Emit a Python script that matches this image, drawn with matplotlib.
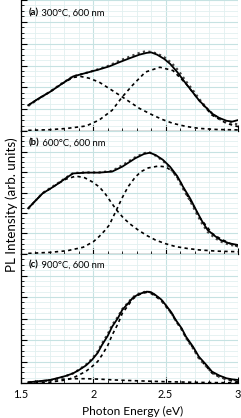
import matplotlib
matplotlib.use("Agg")
import matplotlib.pyplot as plt
from matplotlib.ticker import MultipleLocator, AutoMinorLocator

# ---- data (energy in eV, intensity in arb. units) ----
labels_bold = ["(a)", "(b)", "(c)"]
labels_text = [" 300°C, 600 nm", " 600°C, 600 nm", " 900°C, 600 nm"]

# panel (a)
a_fit_E = [1.55, 1.62, 1.70, 1.78, 1.86, 1.95, 2.04, 2.11, 2.18, 2.25, 2.32, 2.37, 2.40, 2.44, 2.49, 2.53, 2.58, 2.64, 2.69, 2.73, 2.78, 2.82, 2.87, 2.92, 2.96, 3.00]
a_fit_I = [1.18, 1.48, 1.79, 2.15, 2.50, 2.66, 2.82, 2.96, 3.15, 3.33, 3.50, 3.58, 3.60, 3.50, 3.30, 3.08, 2.70, 2.17, 1.75, 1.41, 1.07, 0.80, 0.60, 0.47, 0.43, 0.50]
a_dat_E = [1.55, 1.62, 1.70, 1.78, 1.86, 1.95, 2.04, 2.11, 2.18, 2.25, 2.32, 2.36, 2.40, 2.44, 2.49, 2.54, 2.59, 2.64, 2.69, 2.74, 2.79, 2.84, 2.89, 2.94, 3.00]
a_dat_I = [1.15, 1.46, 1.80, 2.17, 2.50, 2.66, 2.84, 3.00, 3.22, 3.40, 3.58, 3.65, 3.62, 3.55, 3.38, 3.12, 2.75, 2.28, 1.85, 1.40, 1.00, 0.70, 0.50, 0.38, 0.30]
a_g1_E = [1.55, 1.62, 1.70, 1.78, 1.86, 1.91, 1.97, 2.04, 2.13, 2.20, 2.27, 2.32, 2.41, 2.48, 2.55, 2.64, 2.73, 2.85, 3.00]
a_g1_I = [1.18, 1.48, 1.79, 2.15, 2.45, 2.50, 2.42, 2.24, 1.86, 1.56, 1.25, 1.03, 0.73, 0.52, 0.35, 0.21, 0.12, 0.07, 0.05]
a_g2_E = [1.55, 1.70, 1.82, 1.95, 2.04, 2.13, 2.20, 2.27, 2.36, 2.46, 2.55, 2.64, 2.73, 2.82, 2.92, 3.00]
a_g2_I = [0.03, 0.06, 0.12, 0.23, 0.50, 0.95, 1.56, 2.09, 2.70, 2.92, 2.77, 2.17, 1.41, 0.73, 0.35, 0.20]

# panel (b)
b_fit_E = [1.55, 1.60, 1.65, 1.71, 1.76, 1.81, 1.86, 1.95, 2.04, 2.13, 2.20, 2.29, 2.35, 2.39, 2.43, 2.48, 2.53, 2.58, 2.62, 2.67, 2.71, 2.75, 2.79, 2.84, 2.88, 2.94, 3.00]
b_fit_I = [2.23, 2.60, 2.96, 3.22, 3.45, 3.70, 3.93, 3.97, 3.97, 4.02, 4.26, 4.67, 4.88, 4.94, 4.83, 4.60, 4.26, 3.80, 3.28, 2.70, 2.15, 1.62, 1.17, 0.88, 0.68, 0.52, 0.44]
b_dat_E = [1.55, 1.60, 1.65, 1.71, 1.76, 1.81, 1.86, 1.95, 2.04, 2.13, 2.20, 2.29, 2.35, 2.39, 2.43, 2.48, 2.53, 2.58, 2.62, 2.67, 2.71, 2.75, 2.79, 2.84, 2.89, 2.94, 3.00]
b_dat_I = [2.20, 2.60, 2.98, 3.25, 3.48, 3.72, 3.95, 3.98, 3.98, 4.05, 4.33, 4.72, 4.92, 4.95, 4.80, 4.55, 4.20, 3.72, 3.18, 2.58, 2.02, 1.50, 1.08, 0.78, 0.58, 0.45, 0.38]
b_g1_E = [1.55, 1.60, 1.65, 1.71, 1.76, 1.81, 1.88, 1.94, 1.99, 2.04, 2.08, 2.12, 2.16, 2.21, 2.26, 2.31, 2.37, 2.43, 2.50, 2.57, 2.65, 2.73, 2.85, 3.00]
b_g1_I = [2.23, 2.60, 2.96, 3.22, 3.45, 3.65, 3.80, 3.72, 3.53, 3.28, 2.96, 2.55, 2.15, 1.74, 1.43, 1.17, 0.90, 0.68, 0.50, 0.36, 0.27, 0.20, 0.14, 0.11]
b_g2_E = [1.55, 1.70, 1.82, 1.93, 2.00, 2.04, 2.08, 2.11, 2.16, 2.20, 2.24, 2.29, 2.33, 2.38, 2.45, 2.50, 2.55, 2.60, 2.64, 2.69, 2.73, 2.78, 2.82, 2.87, 2.92, 2.96, 3.00]
b_g2_I = [0.03, 0.08, 0.16, 0.33, 0.60, 0.85, 1.15, 1.41, 2.15, 2.75, 3.28, 3.75, 4.02, 4.20, 4.29, 4.25, 4.02, 3.55, 2.96, 2.38, 1.82, 1.38, 1.01, 0.78, 0.60, 0.46, 0.36]

# panel (c)
c_fit_E = [1.55, 1.62, 1.70, 1.76, 1.81, 1.86, 1.90, 1.95, 1.99, 2.03, 2.06, 2.10, 2.13, 2.17, 2.20, 2.24, 2.27, 2.30, 2.33, 2.37, 2.40, 2.43, 2.47, 2.50, 2.54, 2.57, 2.61, 2.64, 2.69, 2.73, 2.78, 2.82, 2.87, 2.92, 2.96, 3.00]
c_fit_I = [0.03, 0.08, 0.14, 0.24, 0.33, 0.45, 0.60, 0.82, 1.07, 1.40, 1.77, 2.20, 2.62, 3.02, 3.40, 3.70, 3.94, 4.08, 4.17, 4.25, 4.22, 4.09, 3.88, 3.63, 3.28, 2.93, 2.55, 2.16, 1.68, 1.22, 0.85, 0.53, 0.35, 0.22, 0.17, 0.14]
c_dat_E = [1.55, 1.62, 1.70, 1.76, 1.81, 1.86, 1.90, 1.95, 1.99, 2.03, 2.06, 2.10, 2.13, 2.17, 2.20, 2.24, 2.27, 2.30, 2.33, 2.37, 2.40, 2.43, 2.47, 2.50, 2.54, 2.57, 2.61, 2.64, 2.69, 2.73, 2.78, 2.82, 2.87, 2.92, 2.96, 3.00]
c_dat_I = [0.02, 0.06, 0.12, 0.22, 0.32, 0.45, 0.62, 0.86, 1.12, 1.47, 1.84, 2.28, 2.70, 3.08, 3.44, 3.74, 3.97, 4.12, 4.20, 4.26, 4.21, 4.07, 3.86, 3.60, 3.25, 2.90, 2.50, 2.10, 1.60, 1.14, 0.78, 0.48, 0.31, 0.20, 0.15, 0.12]
c_g1_E = [1.55, 1.65, 1.75, 1.85, 1.95, 2.04, 2.15, 2.27, 2.40, 2.50, 2.65, 2.80, 3.00]
c_g1_I = [0.04, 0.10, 0.16, 0.20, 0.20, 0.18, 0.14, 0.11, 0.08, 0.06, 0.04, 0.02, 0.01]
c_g2_E = [1.55, 1.70, 1.81, 1.86, 1.90, 1.95, 1.99, 2.03, 2.06, 2.10, 2.13, 2.17, 2.20, 2.24, 2.27, 2.30, 2.33, 2.37, 2.40, 2.43, 2.47, 2.50, 2.54, 2.57, 2.61, 2.64, 2.69, 2.73, 2.78, 2.82, 2.87, 2.92, 2.96, 3.00]
c_g2_I = [0.00, 0.04, 0.14, 0.24, 0.37, 0.55, 0.76, 1.00, 1.30, 1.75, 2.23, 2.75, 3.24, 3.60, 3.89, 4.05, 4.15, 4.22, 4.16, 4.03, 3.82, 3.57, 3.23, 2.88, 2.50, 2.12, 1.63, 1.16, 0.78, 0.46, 0.28, 0.16, 0.09, 0.05]

panels = [
    (a_fit_E, a_fit_I, a_dat_E, a_dat_I, a_g1_E, a_g1_I, a_g2_E, a_g2_I),
    (b_fit_E, b_fit_I, b_dat_E, b_dat_I, b_g1_E, b_g1_I, b_g2_E, b_g2_I),
    (c_fit_E, c_fit_I, c_dat_E, c_dat_I, c_g1_E, c_g1_I, c_g2_E, c_g2_I),
]

xticks = [1.5, 2, 2.5, 3]
xticklabels = ["1.5", "2", "2.5", "3"]

plt.rcParams['font.family'] = ['Lato', 'DejaVu Sans']

fig = plt.figure(figsize=(2.41, 4.18), dpi=100)
W, H = 241.0, 418.0
left = 21 / W
width = (238 - 21) / W
bounds = [(0, 131), (131, 254), (254, 383)]
label_center = [13, 143, 265]

grid_major = "#c6e2e2"
grid_minor = "#e2f0f0"

label_fs = 6.8
tick_fs = 7.8
xlabel_fs = 8.6
ylabel_fs = 9.6

for i, (pt, pb) in enumerate(bounds):
    ax = fig.add_axes([left, 1 - pb / H, width, (pb - pt) / H])
    fE, fI, dE, dI, g1E, g1I, g2E, g2I = panels[i]
    ax.plot(g1E, g1I, color="black", lw=1.2, ls=(0, (2, 2)), zorder=3)
    ax.plot(g2E, g2I, color="black", lw=1.2, ls=(0, (2, 2)), zorder=3)
    ax.plot(dE, dI, color="#444444", lw=1.6, ls=(0, (1, 1.5)), zorder=4)
    ax.plot(fE, fI, color="black", lw=1.3, zorder=5)
    ax.set_xlim(1.5, 3.0)
    ax.set_ylim(0, 6)
    ax.yaxis.set_major_locator(MultipleLocator(1))
    ax.yaxis.set_minor_locator(AutoMinorLocator(4))
    ax.xaxis.set_major_locator(MultipleLocator(0.5))
    ax.xaxis.set_minor_locator(MultipleLocator(0.1))
    ax.grid(True, which="major", color=grid_major, lw=0.8, zorder=0)
    ax.grid(True, which="minor", color=grid_minor, lw=0.6, zorder=0)
    ax.set_axisbelow(True)
    ax.tick_params(axis="both", which="both", direction="in", top=False, right=False)
    ax.tick_params(axis="both", which="major", length=4, width=0.8)
    ax.tick_params(axis="both", which="minor", length=2.5, width=0.6)
    ax.set_yticklabels([])
    ax.spines["top"].set_visible(False)
    ax.spines["right"].set_visible(False)
    ax.spines["left"].set_linewidth(0.9)
    ax.spines["bottom"].set_linewidth(0.9)
    if i < 2:
        ax.set_xticklabels([])
    else:
        ax.set_xticks(xticks)
        ax.set_xticklabels(xticklabels, fontsize=tick_fs)
        ax.tick_params(axis="x", which="major", pad=4)

    ycen = 1 - label_center[i] / H
    tb = ax.text(29 / W, ycen, labels_bold[i], transform=fig.transFigure,
                 fontsize=label_fs, fontweight="bold", va="center", ha="left")
    r = fig.canvas.get_renderer()
    b1 = tb.get_window_extent(renderer=r)
    ax.text(b1.x1 / W, ycen, labels_text[i], transform=fig.transFigure,
            fontsize=label_fs, va="center", ha="left")

fig.text(132.5 / W, 1 - 411 / H, "Photon Energy (eV)", fontsize=xlabel_fs,
         va="center", ha="center")
fig.text(12 / W, 1 - 205 / H, "PL Intensity (arb. units)", rotation=90,
         fontsize=ylabel_fs, va="center", ha="center")

fig.savefig("out.png", dpi=100)
